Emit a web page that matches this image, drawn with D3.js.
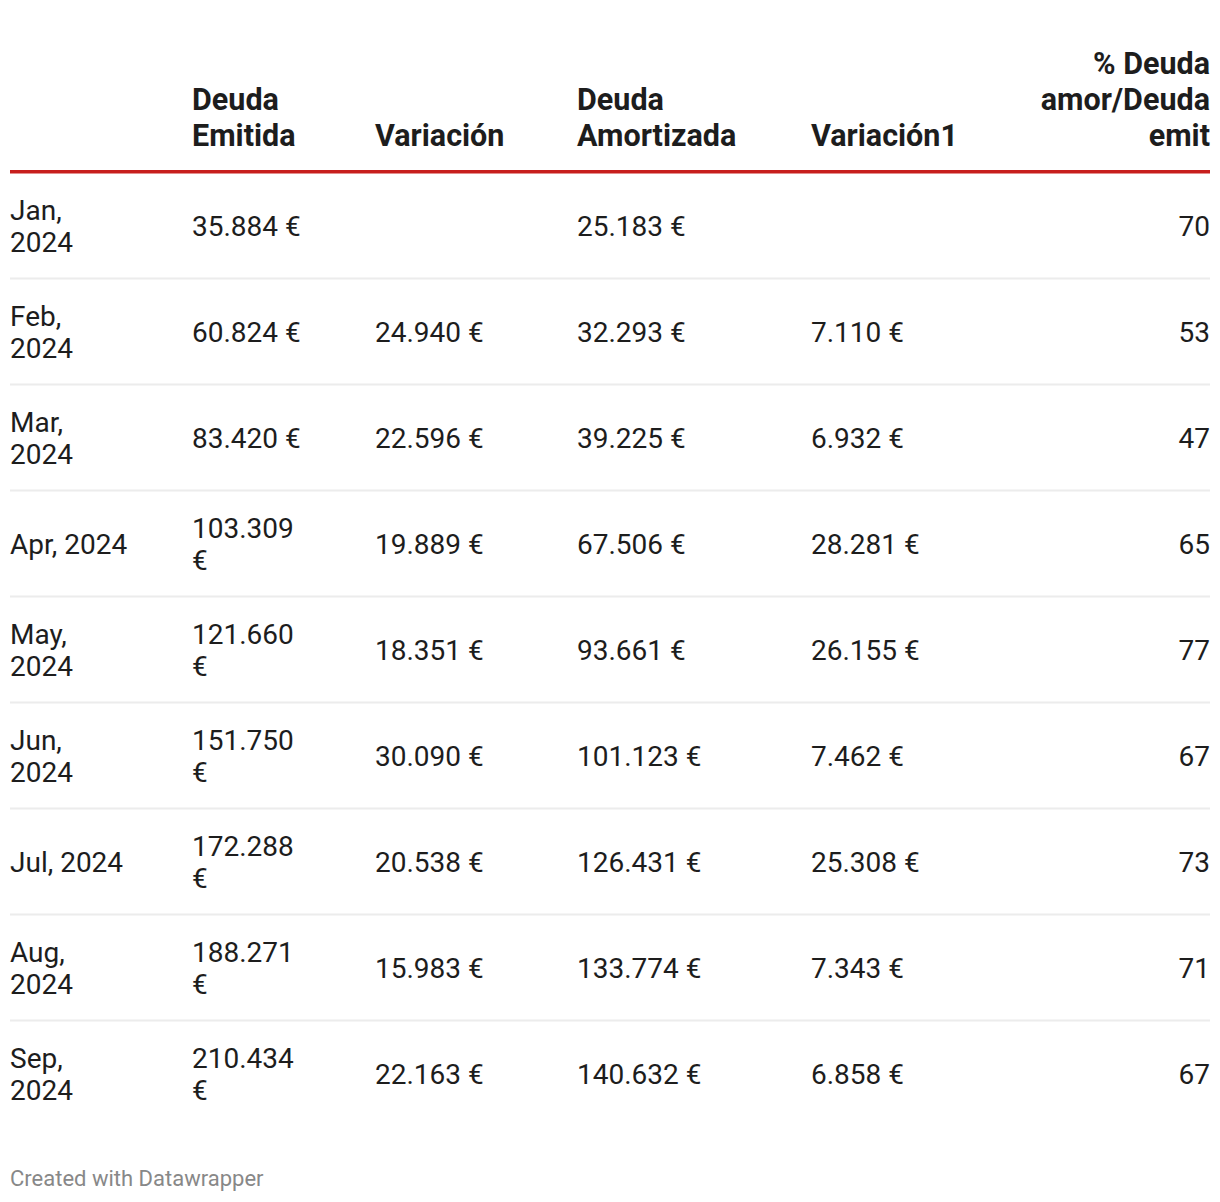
<!DOCTYPE html>
<html>
<head>
<meta charset="utf-8">
<script src="https://cdn.jsdelivr.net/npm/d3@7"></script>
<style>
  html, body { margin: 0; padding: 0; background: #fff; }
  svg text { font-family: Roboto, "Noto Sans", sans-serif; }
</style>
</head>
<body>
<svg id="chart" width="1220" height="1202"></svg>
<script>
// ---- data ----
const headers = ["", "Deuda Emitida", "Variación", "Deuda Amortizada", "Variación1", "% Deuda amor/Deuda emit"];
const months = ["Jan, 2024", "Feb, 2024", "Mar, 2024", "Apr, 2024", "May, 2024", "Jun, 2024", "Jul, 2024", "Aug, 2024", "Sep, 2024"];
const deudaEmitida = [35884, 60824, 83420, 103309, 121660, 151750, 172288, 188271, 210434];
const variacion = [null, 24940, 22596, 19889, 18351, 30090, 20538, 15983, 22163];
const deudaAmortizada = [25183, 32293, 39225, 67506, 93661, 101123, 126431, 133774, 140632];
const variacion1 = [null, 7110, 6932, 28281, 26155, 7462, 25308, 7343, 6858];
const pctAmorEmit = [70, 53, 47, 65, 77, 67, 73, 71, 67];
const footerText = "Created with Datawrapper";

// ---- formatting ----
const locale = d3.formatLocale({decimal: ",", thousands: ".", grouping: [3], currency: ["", " €"]});
const fmtEur = v => v == null ? "" : locale.format(",")(v) + " €";
const fmtInt = v => v == null ? "" : locale.format("d")(v);

const rows = months.map((m, i) => [m, fmtEur(deudaEmitida[i]), fmtEur(variacion[i]), fmtEur(deudaAmortizada[i]), fmtEur(variacion1[i]), fmtInt(pctAmorEmit[i])]);

// ---- layout ----
const svg = d3.select("#chart");
const left = 10, right = 1210;
const colX = [10, 192, 375, 577, 811, 1210];
const colAlign = ["start", "start", "start", "start", "start", "end"];
const colMax = [120, 118, 190, 220, 200, 190];
const headerSize = 30.5, bodySize = 28;
const headerBaseline = 146, headerLH = 36;
const bodyTop = 173, rowH = 106, bodyLH = 32;

const y = d3.scaleBand().domain(d3.range(rows.length)).range([bodyTop, bodyTop + rowH * rows.length]).padding(0);

// measuring helper
const measure = svg.append("text").attr("x", -1000).attr("y", -1000);
function wrap(str, maxW, size, weight) {
  measure.attr("font-size", size).attr("font-weight", weight);
  const words = str.split(" ");
  const lines = [];
  let cur = "";
  words.forEach(w => {
    const test = cur ? cur + " " + w : w;
    measure.text(test);
    if (cur && measure.node().getComputedTextLength() > maxW) {
      lines.push(cur);
      cur = w;
    } else cur = test;
  });
  if (cur) lines.push(cur);
  return lines;
}

// header
headers.forEach((h, c) => {
  if (!h) return;
  const lines = wrap(h, colMax[c], headerSize, 700);
  const t = svg.append("text")
    .attr("font-size", headerSize).attr("font-weight", 700).attr("fill", "#1d1d1d")
    .attr("text-anchor", colAlign[c]);
  lines.forEach((ln, k) => {
    t.append("tspan").attr("x", colX[c])
      .attr("y", headerBaseline - (lines.length - 1 - k) * headerLH)
      .text(ln);
  });
});

// red rule
svg.append("rect").attr("x", left).attr("y", 170).attr("width", right - left).attr("height", 3.5).attr("fill", "#c71e1d");

// row separators
svg.selectAll("rect.sep").data(d3.range(rows.length - 1)).join("rect")
  .attr("class", "sep")
  .attr("x", left).attr("width", right - left)
  .attr("y", i => y(i) + y.bandwidth() - 1.5).attr("height", 2)
  .attr("fill", "#ececec");

// body cells
rows.forEach((r, i) => {
  const cy = y(i) + y.bandwidth() / 2;
  r.forEach((v, c) => {
    if (!v) return;
    const lines = wrap(v, colMax[c], bodySize, 400);
    const t = svg.append("text")
      .attr("font-size", bodySize).attr("fill", "#1d1d1d")
      .attr("text-anchor", colAlign[c]);
    lines.forEach((ln, k) => {
      t.append("tspan").attr("x", colX[c])
        .attr("y", cy + 10 + (k - (lines.length - 1) / 2) * bodyLH)
        .text(ln);
    });
  });
});

measure.remove();

// footer
svg.append("text").attr("x", 10).attr("y", 1186)
  .attr("font-size", 22).attr("fill", "#888888")
  .text(footerText);
</script>
</body>
</html>
